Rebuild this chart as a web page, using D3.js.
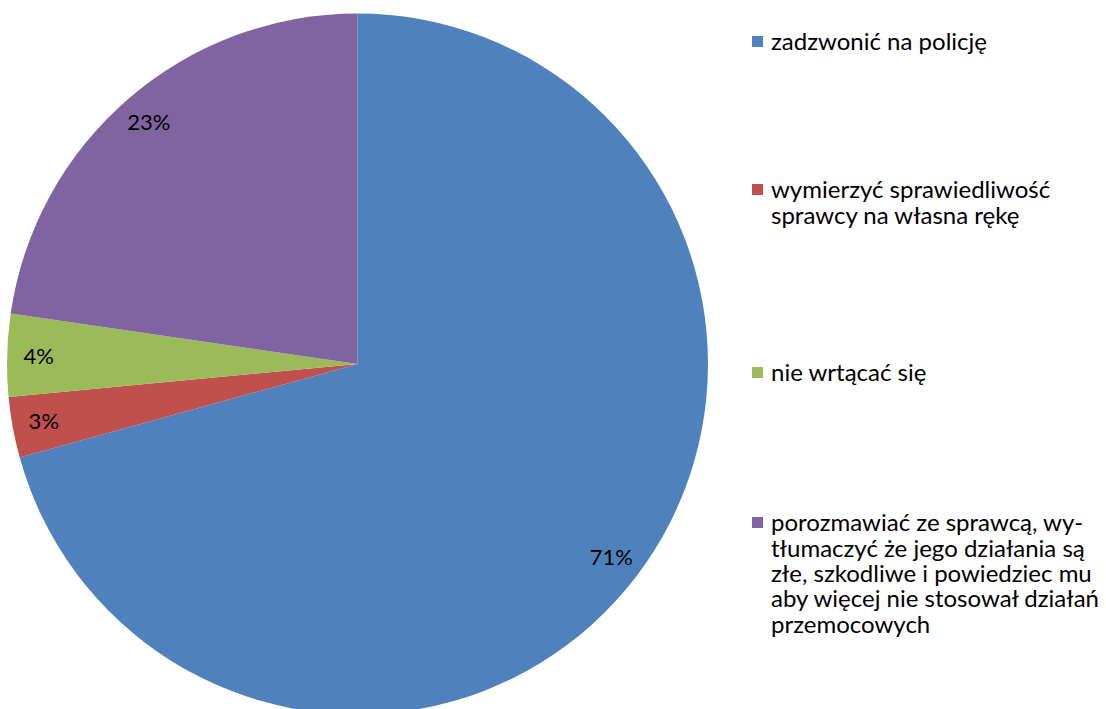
<!DOCTYPE html>
<html><head><meta charset="utf-8">
<script src="https://cdn.jsdelivr.net/npm/d3@7"></script>
<style>body{margin:0;background:#fff}svg{display:block}</style>
</head><body>
<svg id="c" width="1106" height="709"></svg>
<script>
const categories = [
  "zadzwonić na policję",
  "wymierzyć sprawiedliwość sprawcy na własna rękę",
  "nie wrtącać się",
  "porozmawiać ze sprawcą, wytłumaczyć że jego działania są złe, szkodliwe i powiedziec mu aby więcej nie stosował działań przemocowych"
];
const legendLines = [
  ["zadzwonić na policję"],
  ["wymierzyć sprawiedliwość", "sprawcy na własna rękę"],
  ["nie wrtącać się"],
  ["porozmawiać ze sprawcą, wy-", "tłumaczyć że jego działania są", "złe, szkodliwe i powiedziec mu", "aby więcej nie stosował działań", "przemocowych"]
];
const values = [70.7, 2.8, 3.8, 22.7];
const valueLabels = ["71%", "3%", "4%", "23%"];
const colors = ["#4F81BD", "#C0504D", "#9BBB59", "#8064A2"];

const svg = d3.select("#c");
const font = "Lato, 'Open Sans', sans-serif";
const cx = 357.5, cy = 364, r = 350.5;

const pie = d3.pie().sort(null).value(d => d)(values);
const arc = d3.arc().innerRadius(0).outerRadius(r);
const labelArc = d3.arc().innerRadius(r * 0.91).outerRadius(r * 0.91);

const g = svg.append("g").attr("transform", `translate(${cx},${cy})`);
g.selectAll("path").data(pie).join("path")
  .attr("d", arc).attr("fill", (d, i) => colors[i]);
g.selectAll("text").data(pie).join("text")
  .attr("transform", d => `translate(${labelArc.centroid(d)})`)
  .attr("text-anchor", "middle").attr("dy", "0.35em")
  .attr("font-family", font).attr("font-size", 22).attr("fill", "#000")
  .text((d, i) => valueLabels[i]);

const legendY = [42, 190, 373, 523];
const lg = svg.append("g");
categories.forEach((c, i) => {
  const item = lg.append("g").attr("transform", `translate(752,${legendY[i]})`);
  item.append("rect").attr("x", 0).attr("y", -6).attr("width", 11).attr("height", 11).attr("fill", colors[i]);
  const t = item.append("text").attr("x", 19).attr("y", 0)
    .attr("font-family", font).attr("font-size", 24).attr("fill", "#000");
  legendLines[i].forEach((ln, j) => {
    t.append("tspan").attr("x", 19).attr("dy", j === 0 ? "0.35em" : 25.3).text(ln);
  });
});
</script>
</body></html>
